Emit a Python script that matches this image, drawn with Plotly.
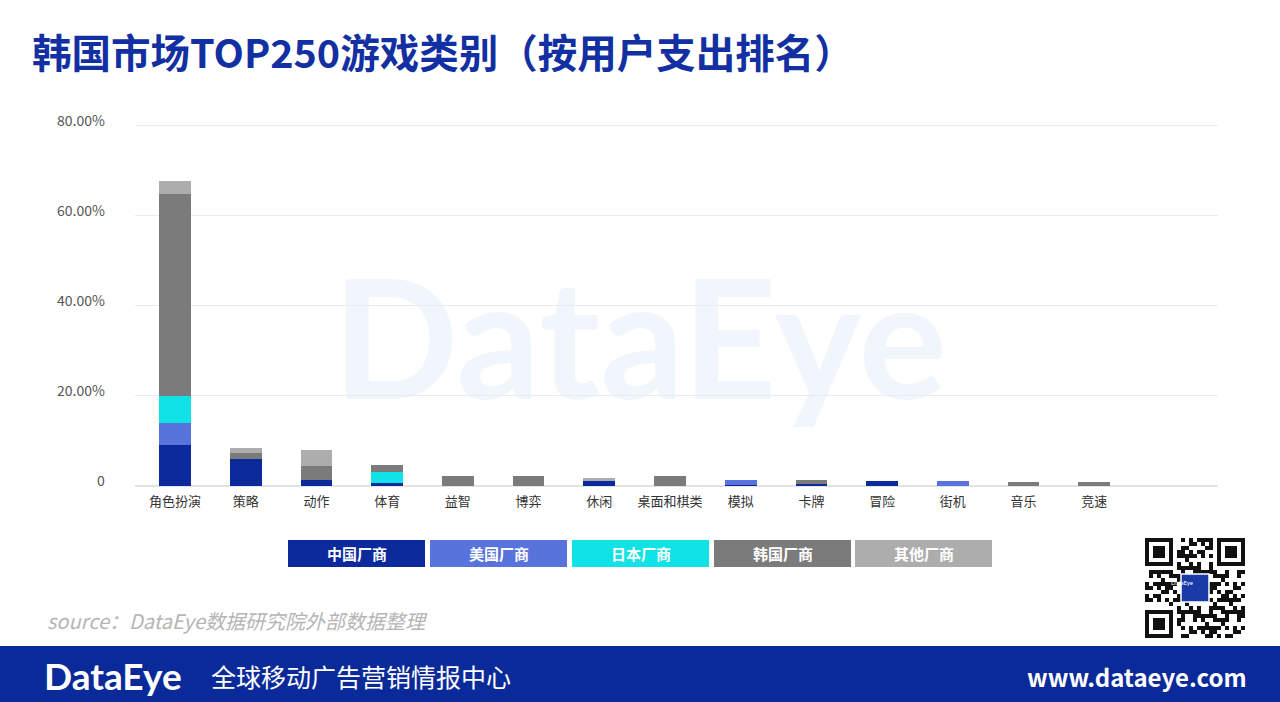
import plotly.graph_objects as go

categories = ["角色扮演", "策略", "动作", "体育", "益智", "博弈", "休闲", "桌面和棋类", "模拟", "卡牌", "冒险", "街机", "音乐", "竞速"]
series_names = ["中国厂商", "美国厂商", "日本厂商", "韩国厂商", "其他厂商"]
china = [9.1, 5.9, 1.3, 0.7, 0, 0, 1.2, 0, 0.2, 0.4, 1.2, 0, 0, 0]
usa = [5.0, 0, 0, 0, 0, 0, 0, 0, 1.1, 0, 0, 1.2, 0, 0]
japan = [5.8, 0, 0, 2.3, 0, 0, 0, 0, 0, 0, 0, 0, 0, 0]
korea = [45.0, 1.5, 3.2, 1.6, 2.2, 2.2, 0, 2.2, 0, 1.0, 0, 0, 0.8, 0.8]
other = [2.9, 1.0, 3.5, 0, 0, 0, 0.6, 0, 0, 0, 0, 0, 0, 0]
y_tickvals = [0, 20, 40, 60, 80]
y_ticktext = ["0", "20.00%", "40.00%", "60.00%", "80.00%"]

colors = ["#0c2a9c", "#5873dc", "#10e2e6", "#7b7b7b", "#adadad"]
FONT = "Noto Sans CJK SC"

fig = go.Figure()
for name, vals, col in zip(series_names, [china, usa, japan, korea, other], colors):
    fig.add_trace(go.Bar(x=categories, y=vals, name=name, marker=dict(color=col, line=dict(width=0)),
                         width=0.45, showlegend=False))

# pixel -> paper helpers
L, R, T, B = 135, 1218, 124, 486
YMAX = 80.4
def px(x):
    return (x - L) / (R - L)
def py(y):
    return (B - y) / (B - T)

shapes = []
annotations = []

# y tick labels (placed slightly above gridlines as in the reference)
for v, t in zip(y_tickvals, y_ticktext):
    annotations.append(dict(x=px(107), y=v, xref="paper", yref="y", xanchor="right", yanchor="middle",
                            yshift=6, text=t, showarrow=False, font=dict(family=FONT, size=14, color="#555")))

# watermark
annotations.append(dict(x=px(640), y=py(335), xref="paper", yref="paper", text="<b>DataEye</b>",
                        showarrow=False, font=dict(family="Lato", size=165, color="rgba(228,236,249,0.5)")))

# legend boxes
lx = [288, 430, 572, 714, 855]
for name, col, x0 in zip(series_names, colors, lx):
    shapes.append(dict(type="rect", xref="paper", yref="paper", x0=px(x0), x1=px(x0 + 137),
                       y0=py(567), y1=py(540), fillcolor=col, line=dict(width=0), layer="below"))
    annotations.append(dict(x=px(x0 + 68.5), y=py(553.5), xref="paper", yref="paper", text="<b>" + name + "</b>",
                            xanchor="center", yanchor="middle",
                            showarrow=False, font=dict(family=FONT, size=15, color="white")))

# title
annotations.append(dict(x=px(30), y=py(51), xref="paper", yref="paper", xanchor="left", yanchor="middle",
                        text="<b>韩国市场TOP250游戏类别（按用户支出排名）</b>", showarrow=False,
                        font=dict(family=FONT, size=39.5, color="#1330a2")))

# source
annotations.append(dict(x=px(45), y=py(620), xref="paper", yref="paper", xanchor="left", yanchor="middle",
                        text="<i>source：DataEye数据研究院外部数据整理</i>", showarrow=False,
                        font=dict(family=FONT, size=20, color="#b5b5b5")))

# footer band
shapes.append(dict(type="rect", xref="paper", yref="paper", x0=px(0), x1=px(1280), y0=py(702), y1=py(646),
                   fillcolor="#0b2a99", line=dict(width=0), layer="below"))
annotations.append(dict(x=px(42), y=py(675), xref="paper", yref="paper", xanchor="left", yanchor="middle",
                        text="<b>DataEye</b>", showarrow=False, font=dict(family="Lato", size=37, color="white")))
annotations.append(dict(x=px(209), y=py(676), xref="paper", yref="paper", xanchor="left", yanchor="middle",
                        text="全球移动广告营销情报中心", showarrow=False, font=dict(family=FONT, size=25, color="white")))
annotations.append(dict(x=px(1249), y=py(676), xref="paper", yref="paper", xanchor="right", yanchor="middle",
                        text="<b>www.dataeye.com</b>", showarrow=False, font=dict(family=FONT, size=24, color="white")))

# QR-like decoration
qx, qy, n, m = 1145, 538, 25, 4
def finder(r, c):
    ok = []
    for i in range(7):
        for j in range(7):
            if i in (0, 6) or j in (0, 6) or (2 <= i <= 4 and 2 <= j <= 4):
                ok.append((r + i, c + j))
    return ok
cells = set(finder(0, 0) + finder(0, n - 7) + finder(n - 7, 0))
reserved = set()
for (r0, c0) in [(0, 0), (0, n - 8), (n - 8, 0)]:
    for i in range(8):
        for j in range(8):
            reserved.add((r0 + i, c0 + j))
for i in range(n):
    for j in range(n):
        if (i, j) in reserved:
            continue
        if 9 <= i <= 15 and 9 <= j <= 15:
            continue
        if ((i * i * 31 + j * j * 17 + i * j * 7 + i * 3 + j) % 11) < 5:
            cells.add((i, j))
for (i, j) in cells:
    shapes.append(dict(type="rect", xref="paper", yref="paper", x0=px(qx + j * m), x1=px(qx + (j + 1) * m),
                       y0=py(qy + (i + 1) * m), y1=py(qy + i * m), fillcolor="#111111", line=dict(width=0),
                       layer="below"))
shapes.append(dict(type="rect", xref="paper", yref="paper", x0=px(qx + 36), x1=px(qx + 64), y0=py(qy + 64),
                   y1=py(qy + 36), fillcolor="#1a3aa8", line=dict(width=1.5, color="white"), layer="below"))
annotations.append(dict(x=px(qx + 50), y=py(qy + 50), xref="paper", yref="paper", text="DataEye", showarrow=False,
                        font=dict(family="Lato", size=6, color="white")))

fig.update_layout(
    width=1280, height=702, barmode="stack",
    margin=dict(l=L, r=1280 - R, t=T, b=702 - B, pad=0),
    paper_bgcolor="white", plot_bgcolor="rgba(0,0,0,0)",
    font=dict(family=FONT, color="#444"),
    xaxis=dict(range=[-0.566, 14.75], showgrid=False, showline=False, zeroline=False, ticks="",
               tickfont=dict(family=FONT, size=13, color="#333"), ticklabelstandoff=6, fixedrange=True),
    yaxis=dict(range=[0, YMAX], tickvals=y_tickvals, showticklabels=False, showgrid=True, gridcolor="#ebebeb",
               gridwidth=1, zeroline=True, zerolinecolor="#e3e3e3", zerolinewidth=1.5, showline=False,
               fixedrange=True),
    shapes=shapes, annotations=annotations, showlegend=False,
)

fig.write_html("out.html", post_script="document.body.style.margin='0';", config={"displayModeBar": False})
